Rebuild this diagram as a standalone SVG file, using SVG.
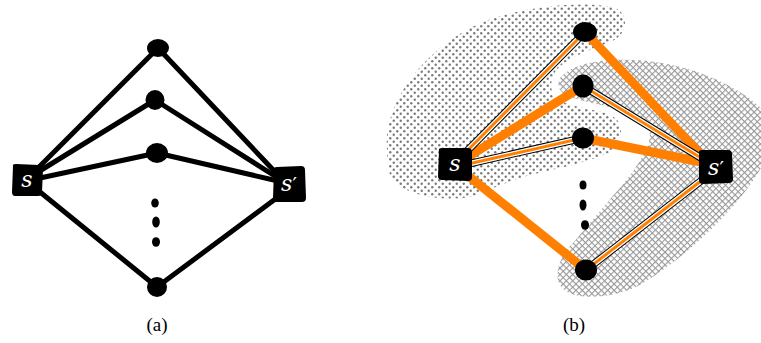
<svg xmlns="http://www.w3.org/2000/svg" width="761" height="343" viewBox="0 0 761 343">
<defs>
<pattern id="dots" width="7" height="7" patternUnits="userSpaceOnUse">
<circle cx="1.75" cy="1.75" r="1.2" fill="#7a7a7a"/>
<circle cx="5.25" cy="5.25" r="1.2" fill="#7a7a7a"/>
</pattern>
<pattern id="xhatch" width="4.5" height="4.5" patternUnits="userSpaceOnUse" patternTransform="rotate(45)">
<path d="M0,0.5 H4.5 M0.5,0 V4.5" stroke="#969696" stroke-width="1.1" fill="none"/>
</pattern>
<style>
.e{stroke:#000;stroke-width:5;stroke-linecap:round;fill:none}
.thick{stroke:#ff8000;stroke-width:9;fill:none}
.o1{stroke:#000;stroke-width:7.5;fill:none}
.o2{stroke:#fff;stroke-width:5.5;fill:none}
.o3{stroke:#ff8000;stroke-width:3;fill:none}
.nd{fill:#000}
.lbl{font-family:"DejaVu Serif","Liberation Serif",serif;font-style:italic;font-size:22px;fill:#fff;text-anchor:middle}
.pr{font-family:"DejaVu Sans",sans-serif;font-style:normal;font-size:20px}
.cap{font-family:"Liberation Serif","DejaVu Serif",serif;font-size:19px;fill:#000;text-anchor:middle}
</style>
</defs>
<rect width="761" height="343" fill="#fff"/>

<!-- regions (b) -->
<g id="regions">
<path fill="url(#dots)" d="M387,150 C383,105 420,55 470,28 C515,5 590,0 615,8 C630,14 628,35 610,42 C590,50 565,58 555,72 C548,85 550,97 565,103 C585,110 605,110 615,118 C625,126 622,145 610,152 C590,162 560,168 530,175 C505,182 485,192 470,197 C440,202 400,195 390,175 C388,165 387,158 387,150 Z"/>
<path fill="url(#xhatch)" d="M562,76 C580,58 625,58 655,62 C700,68 740,88 761,108 L761,168 C740,205 690,255 640,285 C615,298 575,302 562,288 C552,276 560,255 573,243 L607,203 C625,182 640,165 648,145 C654,128 645,115 625,110 C600,105 575,100 563,93 C557,88 557,80 562,76 Z"/>
</g>

<!-- connectors -->
<g id="connectors">
<g id="edges-a">
<line class="e" x1="38" y1="168" x2="158" y2="48"/>
<line class="e" x1="38" y1="172" x2="155" y2="100"/>
<line class="e" x1="40" y1="178" x2="157" y2="153"/>
<line class="e" x1="40" y1="192" x2="157" y2="287"/>
<line class="e" x1="158" y1="48" x2="278" y2="175"/>
<line class="e" x1="155" y1="100" x2="278" y2="178"/>
<line class="e" x1="157" y1="153" x2="278" y2="181"/>
<line class="e" x1="157" y1="287" x2="278" y2="197"/>
</g>
<g id="edges-b">
<line class="thick" x1="466" y1="158" x2="583" y2="86"/>
<line class="thick" x1="466" y1="174" x2="586" y2="270"/>
<line class="thick" x1="585" y1="32" x2="706" y2="160"/>
<line class="thick" x1="583" y1="138" x2="706" y2="163"/>
<g>
<line class="o1" x1="465" y1="153" x2="585" y2="32"/>
<line class="o1" x1="468" y1="164" x2="583" y2="138"/>
<line class="o1" x1="583" y1="86" x2="706" y2="161"/>
<line class="o1" x1="586" y1="270" x2="706" y2="177"/>
<line class="o2" x1="465" y1="153" x2="585" y2="32"/>
<line class="o2" x1="468" y1="164" x2="583" y2="138"/>
<line class="o2" x1="583" y1="86" x2="706" y2="161"/>
<line class="o2" x1="586" y1="270" x2="706" y2="177"/>
<line class="o3" x1="465" y1="153" x2="585" y2="32"/>
<line class="o3" x1="468" y1="164" x2="583" y2="138"/>
<line class="o3" x1="583" y1="86" x2="706" y2="161"/>
<line class="o3" x1="586" y1="270" x2="706" y2="177"/>
</g>
</g>
</g>

<!-- nodes (a) -->
<g id="a-s"><path class="nd" d="M13,166 Q12,164 16,164 L39,165 Q43,165 43,169 L42,192 Q42,196 38,196 L15,196 Q12,196 12,192 Z"/><text class="lbl" x="27" y="187">s</text></g>
<g id="a-sp"><path class="nd" d="M274,170 Q273,167 277,167 L301,166 Q305,166 305,170 L306,198 Q306,202 302,202 L277,202 Q273,202 273,198 Z"/><text class="lbl" x="289" y="191">s<tspan class="pr">′</tspan></text></g>
<g id="a-v1"><ellipse class="nd" cx="158" cy="48" rx="11" ry="9"/></g>
<g id="a-v2"><ellipse class="nd" cx="155" cy="100" rx="9.5" ry="10"/></g>
<g id="a-v3"><ellipse class="nd" cx="157" cy="153" rx="11" ry="10"/></g>
<g id="a-dots"><ellipse class="nd" cx="155" cy="203" rx="3.8" ry="4.5"/><ellipse class="nd" cx="156" cy="222" rx="3.8" ry="5.5"/><ellipse class="nd" cx="156" cy="242" rx="4" ry="4.8"/></g>
<g id="a-v4"><ellipse class="nd" cx="157" cy="287" rx="10" ry="10"/></g>

<!-- nodes (b) -->
<g id="b-s"><path class="nd" d="M439,151 Q438,148 442,148 L468,148 Q472,148 472,152 L472,177 Q472,181 468,181 L442,180 Q438,180 438,176 Z"/><text class="lbl" x="455" y="171">s</text></g>
<g id="b-sp"><path class="nd" d="M699,154 Q698,150 702,150 L728,150 Q732,150 732,154 L733,179 Q733,183 729,183 L703,184 Q699,184 699,180 Z"/><text class="lbl" x="716" y="175">s<tspan class="pr">′</tspan></text></g>
<g id="b-v1"><ellipse class="nd" cx="585" cy="32" rx="12" ry="10"/></g>
<g id="b-v2"><ellipse class="nd" cx="583" cy="86" rx="10.5" ry="11.5"/></g>
<g id="b-v3"><ellipse class="nd" cx="583" cy="138" rx="11" ry="10.5"/></g>
<g id="b-dots"><ellipse class="nd" cx="583" cy="185" rx="3.5" ry="4.5"/><ellipse class="nd" cx="583" cy="205" rx="3.5" ry="5.5"/><ellipse class="nd" cx="585" cy="225" rx="4" ry="4.8"/></g>
<g id="b-v4"><ellipse class="nd" cx="586" cy="270" rx="11" ry="10.5"/></g>

<text class="cap" x="157" y="331">(a)</text>
<text class="cap" x="574" y="331">(b)</text>
</svg>
